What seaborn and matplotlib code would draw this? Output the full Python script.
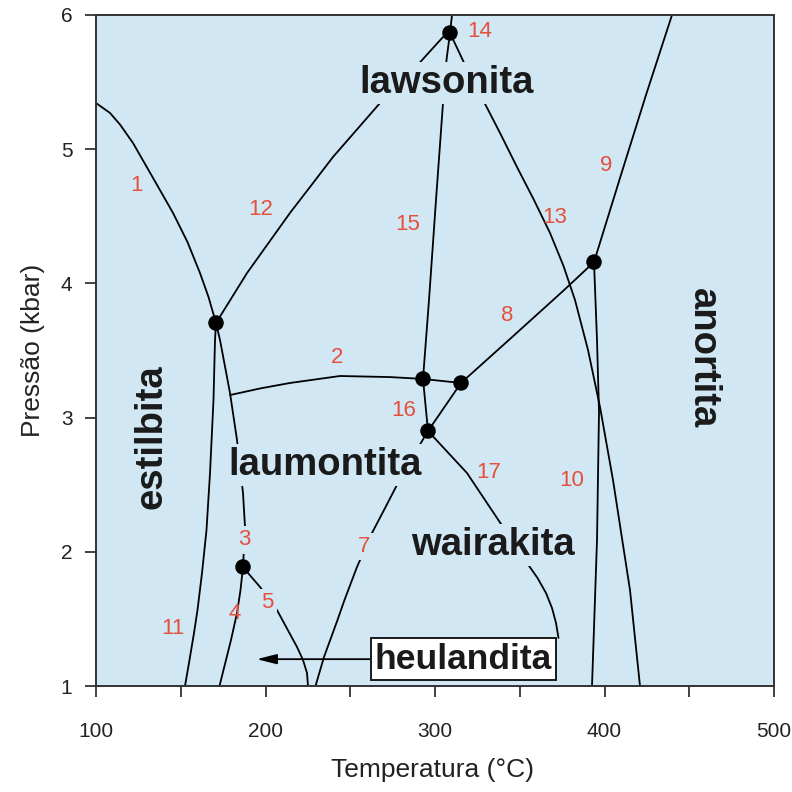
import matplotlib
matplotlib.use("Agg")
import matplotlib.pyplot as plt
import seaborn as sns
import pandas as pd

# Invariant points (temperature in °C, pressure in kbar)
point_T = [170.8, 308.85, 292.92, 315.34, 295.87, 393.81, 186.73]
point_P = [3.705, 5.866, 3.288, 3.258, 2.900, 4.159, 1.887]

# Reaction boundaries, each traced as temperature / pressure pairs
r1_T = [100.0, 108.26, 114.16, 121.83, 133.33, 145.43, 153.98, 161.36, 166.37, 170.8]
r1_P = [5.344, 5.270, 5.184, 5.046, 4.793, 4.525, 4.308, 4.077, 3.899, 3.705]
r2_T = [179.06, 196.76, 214.45, 243.95, 273.45, 292.92, 315.34]
r2_P = [3.168, 3.217, 3.258, 3.310, 3.302, 3.288, 3.258]
r3_T = [170.8, 173.16, 179.06, 183.19, 186.73, 187.91, 186.73]
r3_P = [3.705, 3.578, 3.183, 2.833, 2.438, 2.185, 1.887]
r4_T = [186.73, 185.25, 183.19, 179.65, 172.86]
r4_P = [1.887, 1.715, 1.544, 1.343, 1.0]
r5_T = [186.73, 189.68, 196.76, 206.78, 218.58, 222.12, 224.48, 225.07]
r5_P = [1.887, 1.842, 1.738, 1.566, 1.291, 1.194, 1.097, 1.0]
r7_T = [295.87, 290.27, 278.17, 269.91, 262.83, 253.98, 246.61, 242.48, 234.51, 229.50]
r7_P = [2.900, 2.781, 2.513, 2.311, 2.140, 1.887, 1.641, 1.492, 1.216, 1.0]
r8_T = [315.34, 344.25, 375.52, 393.81]
r8_P = [3.258, 3.586, 3.943, 4.159]
r9_T = [393.81, 409.14, 424.48, 439.82]
r9_P = [4.159, 4.785, 5.404, 6.0]
r10_T = [393.81, 395.58, 396.76, 395.58, 392.63]
r10_P = [4.159, 3.578, 3.042, 2.088, 1.0]
r11_T = [170.8, 170.21, 169.32, 167.26, 165.19, 162.54, 159.88, 157.82, 155.16, 152.51]
r11_P = [3.705, 3.578, 3.131, 2.587, 2.162, 1.842, 1.566, 1.395, 1.194, 1.0]
r12_T = [170.8, 189.09, 201.77, 214.45, 227.14, 239.82, 253.69, 267.55, 287.02, 304.72, 308.85]
r12_P = [3.705, 4.077, 4.301, 4.525, 4.733, 4.942, 5.143, 5.344, 5.590, 5.836, 5.866]
r13_T = [308.85, 318.29, 328.32, 338.35, 348.38, 358.41, 367.85, 375.81, 382.60,
         390.27, 397.35, 405.01, 415.04, 420.94]
r13_P = [5.866, 5.613, 5.367, 5.121, 4.867, 4.621, 4.376, 4.130, 3.876,
         3.504, 3.079, 2.535, 1.715, 1.0]
r14_T = [308.85, 310.03]
r14_P = [5.866, 6.0]
r15_T = [308.85, 306.78, 304.72, 300.59, 296.46, 292.92]
r15_P = [5.866, 5.665, 5.344, 4.621, 3.876, 3.288]
r16_T = [292.92, 295.87]
r16_P = [3.288, 2.900]
r16b_T = [315.34, 295.87]
r16b_P = [3.258, 2.900]
r17_T = [295.87, 318.88, 340.12, 354.28, 360.47, 365.49, 369.03, 371.39, 372.86]
r17_P = [2.900, 2.587, 2.185, 1.917, 1.805, 1.693, 1.581, 1.470, 1.358]

# Reaction numbers and where they are written
num_text = ["1", "2", "3", "4", "5", "7", "8", "9", "10", "11",
            "12", "13", "14", "15", "16", "17"]
num_T = [124.0, 242.0, 187.2, 181.9, 201.3, 257.9, 342.7, 401.0, 380.4, 145.4,
         197.2, 370.4, 326.2, 283.8, 281.4, 331.5]
num_P = [4.73, 3.45, 2.09, 1.54, 1.62, 2.04, 3.76, 4.875, 2.53, 1.425,
         4.55, 4.49, 5.88, 4.44, 3.05, 2.59]

# Mineral fields
phase_text = ["lawsonita", "laumontita", "wairakita", "estilbita", "anortita"]
phase_T = [306.7, 234.9, 333.9, 133.0, 458.0]
phase_P = [5.49, 2.65, 2.05, 2.86, 3.44]
phase_rot = [0, 0, 0, 90, 270]

heul_label = "heulandita"
heul_T, heul_P = 316.8, 1.20
arrow_tip_T, arrow_tail_T = 194.8, 261.4

x_ticks = [100, 200, 300, 400, 500]
x_minor = [150, 250, 350, 450]
y_ticks = [1, 2, 3, 4, 5, 6]

curves = {
    "1": (r1_T, r1_P), "2": (r2_T, r2_P), "3": (r3_T, r3_P), "4": (r4_T, r4_P),
    "5": (r5_T, r5_P), "7": (r7_T, r7_P), "8": (r8_T, r8_P), "9": (r9_T, r9_P),
    "10": (r10_T, r10_P), "11": (r11_T, r11_P), "12": (r12_T, r12_P),
    "13": (r13_T, r13_P), "14": (r14_T, r14_P), "15": (r15_T, r15_P),
    "16": (r16_T, r16_P), "16b": (r16b_T, r16b_P), "17": (r17_T, r17_P),
}
rows = []
for name, (ts, ps) in curves.items():
    for i, (t, p) in enumerate(zip(ts, ps)):
        rows.append({"curve": name, "order": i, "T": t, "P": p})
lines_df = pd.DataFrame(rows)
points_df = pd.DataFrame({"T": point_T, "P": point_P})

sns.set_theme(style="ticks")
plt.rcParams["font.family"] = ["Liberation Sans", "DejaVu Sans"]

BG = "#d1e7f4"
RED = "#e5503c"
INK = "#1a1a1a"

fig = plt.figure(figsize=(7.92, 7.92), dpi=100)
ax = fig.add_axes([96 / 792, 106 / 792, 678 / 792, 671 / 792])
ax.set_facecolor(BG)

sns.lineplot(data=lines_df, x="T", y="P", units="curve", estimator=None,
             sort=False, color="black", linewidth=1.3, legend=False, ax=ax,
             zorder=2)
for ln in ax.get_lines():
    ln.set_solid_joinstyle("round")
sns.scatterplot(data=points_df, x="T", y="P", color="black", s=125,
                edgecolor="none", ax=ax, zorder=5, legend=False)

# Reaction numbers
on_line = {"3", "5", "7"}
for s, t, p in zip(num_text, num_T, num_P):
    kw = {}
    if s in on_line:
        kw["bbox"] = dict(boxstyle="square,pad=0.15", fc=BG, ec="none")
    ax.text(t, p, s, color=RED, fontsize=16, ha="center", va="center",
            zorder=4, **kw)

# Field names
for s, t, p, r in zip(phase_text, phase_T, phase_P, phase_rot):
    ax.text(t, p, s, color=INK, fontsize=27.5, fontweight="bold", rotation=r,
            ha="center", va="center", zorder=4,
            bbox=dict(boxstyle="square,pad=0.08", fc=BG, ec="none"))

# Heulandita field: boxed label with arrow
ax.annotate("", xy=(arrow_tip_T, heul_P), xytext=(arrow_tail_T, heul_P),
            arrowprops=dict(arrowstyle="-|>,head_length=1.0,head_width=0.25",
                            color="black", lw=1.3, shrinkA=0, shrinkB=0),
            zorder=3)
ax.text(heul_T, heul_P, heul_label, color=INK, fontsize=25.5, fontweight="bold",
        ha="center", va="center", zorder=6,
        bbox=dict(boxstyle="square,pad=0.12", fc="white", ec=INK, lw=1.4))

ax.set_xlim(100, 500)
ax.set_ylim(1, 6)
ax.set_xticks(x_ticks)
ax.set_xticks(x_minor, minor=True)
ax.set_yticks(y_ticks)
ax.set_xticklabels([str(v) for v in x_ticks])
ax.set_yticklabels([str(v) for v in y_ticks])
ax.tick_params(which="both", direction="out", length=8, width=1.2,
               color="#222222", bottom=True, left=True, top=False, right=False)
ax.tick_params(axis="x", which="major", pad=18, labelsize=15,
               labelcolor="#222222")
ax.tick_params(axis="y", which="major", pad=9, labelsize=15,
               labelcolor="#222222")
for sp in ax.spines.values():
    sp.set_visible(True)
    sp.set_color("#333333")
    sp.set_linewidth(1.4)

ax.set_xlabel("Temperatura (°C)", fontsize=19, color="#222222")
ax.set_ylabel("Pressão (kbar)", fontsize=19, color="#222222")
ax.xaxis.set_label_coords(0.497, -0.107)
ax.yaxis.set_label_coords(-0.075, 0.5)

fig.savefig("out.png", dpi=100, facecolor="white")
